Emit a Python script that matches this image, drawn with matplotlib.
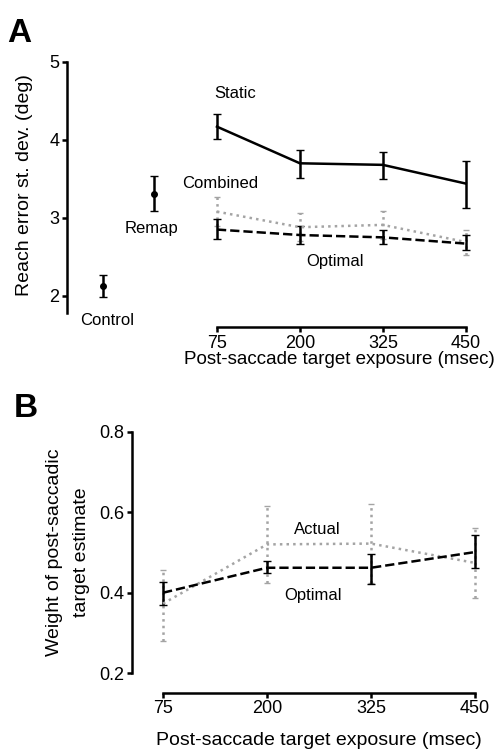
import matplotlib.pyplot as plt

plt.rcParams['font.family'] = ['Liberation Sans', 'DejaVu Sans']

# panel A data
exposure = [75, 200, 325, 450]
static_sd = [4.17, 3.70, 3.68, 3.44]
static_lo = [4.01, 3.51, 3.50, 3.13]
static_hi = [4.33, 3.87, 3.85, 3.73]
combined_sd = [3.08, 2.88, 2.91, 2.69]
combined_lo = [2.89, 2.70, 2.73, 2.53]
combined_hi = [3.27, 3.06, 3.09, 2.85]
optimal_sd = [2.85, 2.78, 2.75, 2.67]
optimal_lo = [2.73, 2.66, 2.66, 2.59]
optimal_hi = [2.99, 2.89, 2.84, 2.78]
single_x = [-97, -20]  # control, remap (placed left of the exposure axis)
single_sd = [2.12, 3.31]
single_lo = [1.98, 3.09]
single_hi = [2.27, 3.54]
single_names = ['Control', 'Remap']

# panel B data
actual_w = [0.373, 0.52, 0.522, 0.474]
actual_lo = [0.281, 0.425, 0.425, 0.388]
actual_hi = [0.457, 0.615, 0.62, 0.56]
optimal_w = [0.40, 0.462, 0.462, 0.501]
optimal_w_lo = [0.369, 0.449, 0.422, 0.462]
optimal_w_hi = [0.427, 0.478, 0.497, 0.543]

GRAY = '#a4a4a4'
LW = 1.8


def err(v, lo, hi):
    return [[a - b for a, b in zip(v, lo)], [b - a for a, b in zip(v, hi)]]


def dotted_bars(ax, x, v, lo, hi):
    eb = ax.errorbar(x, v, yerr=err(v, lo, hi), color=GRAY, ls=':', lw=LW,
                     capsize=2.5, elinewidth=LW)
    for c in eb[2]:
        c.set_linestyle(':')
    return eb


def style(ax, ybounds, xoff):
    for s in ['top', 'right']:
        ax.spines[s].set_visible(False)
    ax.spines['left'].set_bounds(*ybounds)
    ax.spines['bottom'].set_bounds(75, 450)
    ax.spines['bottom'].set_position(('outward', xoff))
    ax.spines['left'].set_linewidth(LW)
    ax.spines['bottom'].set_linewidth(LW)
    ax.tick_params(width=LW, length=3.5, labelsize=13, pad=2)
    ax.set_xticks(exposure)


fig = plt.figure(figsize=(5.01, 7.52), dpi=100)

# ---- A
ax = fig.add_axes([0.1337, 0.5838, 0.804, 0.339])
dotted_bars(ax, exposure, combined_sd, combined_lo, combined_hi)
ax.errorbar(exposure, optimal_sd, yerr=err(optimal_sd, optimal_lo, optimal_hi),
            color='black', ls='--', lw=LW, capsize=3, elinewidth=LW)
ax.errorbar(exposure, static_sd, yerr=err(static_sd, static_lo, static_hi),
            color='black', ls='-', lw=LW, capsize=3, elinewidth=LW)
ax.errorbar(single_x, single_sd, yerr=err(single_sd, single_lo, single_hi),
            color='black', ls='none', marker='o', ms=4, capsize=3, elinewidth=LW)
ax.set_xlim(-151, 456)
ax.set_ylim(1.78, 5.05)
ax.set_yticks([2, 3, 4, 5])
style(ax, (1.78, 5), 10)
ax.set_ylabel('Reach error st. dev. (deg)', fontsize=14, labelpad=12)
ax.set_xlabel('Post-saccade target exposure (msec)', fontsize=13.5)
ax.xaxis.set_label_coords((262.5 + 151) / 607 - 0.005, -0.15)
ax.text(102, 4.60, 'Static', fontsize=12, ha='center', va='center')
ax.text(80, 3.44, 'Combined', fontsize=12, ha='center', va='center')
ax.text(-23, 2.87, single_names[1], fontsize=12, ha='center', va='center')
ax.text(-90, 1.68, single_names[0], fontsize=12, ha='center', va='center')
ax.text(253, 2.44, 'Optimal', fontsize=12, ha='center', va='center')
fig.text(0.014, 0.956, 'A', fontsize=24, fontweight='bold', va='center')

# ---- B
bx = fig.add_axes([0.2635, 0.1047, 0.7146, 0.3213])
dotted_bars(bx, exposure, actual_w, actual_lo, actual_hi)
bx.errorbar(exposure, optimal_w, yerr=err(optimal_w, optimal_w_lo, optimal_w_hi),
            color='black', ls='--', lw=LW, capsize=3, elinewidth=LW)
bx.set_xlim(37.7, 468)
bx.set_ylim(0.2, 0.8)
bx.set_yticks([0.2, 0.4, 0.6, 0.8])
bx.set_yticklabels(['0.2', '0.4', '0.6', '0.8'])
style(bx, (0.2, 0.8), 14)
bx.set_ylabel('Weight of post-saccadic\ntarget estimate', fontsize=14,
              labelpad=7, linespacing=1.7)
bx.set_xlabel('Post-saccade target exposure (msec)', fontsize=14)
bx.xaxis.set_label_coords((262.5 - 37.7) / (468 - 37.7), -0.245)
bx.text(260, 0.558, 'Actual', fontsize=12, ha='center', va='center')
bx.text(255, 0.394, 'Optimal', fontsize=12, ha='center', va='center')
fig.text(0.028, 0.457, 'B', fontsize=24, fontweight='bold', va='center')

fig.savefig('out.png', dpi=100)
